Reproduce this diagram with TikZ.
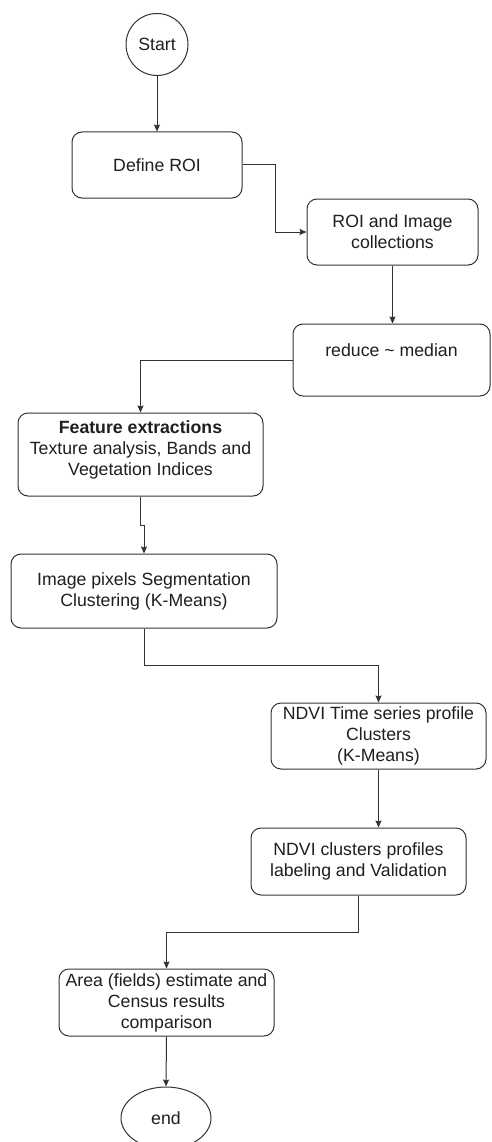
\documentclass[tikz,border=0pt]{standalone}
\usepackage{fontspec}
\setmainfont{Liberation Sans}
\usetikzlibrary{arrows.meta,shapes.geometric}
\begin{document}
\begin{tikzpicture}[x=1pt,y=-1pt,
  txt/.style={font=\fontsize{17.7}{21}\selectfont, text=black!88, align=center, inner sep=0pt},
  box/.style={txt, draw=black!80, line width=1pt, rounded corners=10pt},
  conn/.style={draw=black!80, line width=1pt, -{Stealth[length=7pt,width=6pt,inset=1pt]}}
]
\fill[white] (0,0) rectangle (491,1142);
\useasboundingbox (0,0) rectangle (491,1142);
\clip (0,0) rectangle (491,1142);

\node[txt, draw=black!80, line width=1pt, circle, minimum size=62pt] (start) at (157,44.5) {Start};
\node[box, minimum width=170pt, minimum height=66pt] (roi) at (157,165) {Define ROI};
\node[box, minimum width=171pt, minimum height=66pt] (coll) at (392.5,232) {ROI and Image\\collections};
\node[box, minimum width=197pt, minimum height=72pt] (red) at (391.5,360) {};
\node[txt] (redtxt) at (391.5,350) {reduce \textasciitilde{} median};
\node[box, minimum width=245pt, minimum height=83pt] (feat) at (140.5,454.5) {};
\node[txt] (feattxt) at (140.5,449.5) {\textbf{Feature extractions}\\Texture analysis, Bands and\\Vegetation Indices};
\node[box, minimum width=266pt, minimum height=74pt] (seg) at (144,591) {Image pixels Segmentation\\Clustering (K-Means)};
\node[box, minimum width=215pt, minimum height=66pt] (ts) at (378.5,736) {NDVI Time series profile\\Clusters\\(K-Means)};
\node[box, minimum width=215pt, minimum height=67pt] (lab) at (358.5,861.5) {NDVI clusters profiles\\labeling and Validation};
\node[box, minimum width=215pt, minimum height=67pt] (area) at (166.5,1002.5) {Area (fields) estimate and\\Census results\\comparison};
\node[txt, draw=black!80, line width=1pt, ellipse, minimum width=90pt, minimum height=62pt] (end) at (166,1118) {end};

\draw[conn] (start.south) -- (roi.north);
\draw[conn] (roi.east) -- (275,165) |- (coll.west);
\draw[conn] (coll.south) -- (coll.south |- red.north);
\draw[conn] (red.west) -| (feat.north);
\draw[conn] (feat.south) -- ++(0,29) -| (seg.north);
\draw[conn] (seg.south) -- ++(0,37) -| (ts.north);
\draw[conn] (ts.south) -- (ts.south |- lab.north);
\draw[conn] (lab.south) -- ++(0,37) -| (area.north);
\draw[conn] (area.south) -- (end.north);
\end{tikzpicture}
\end{document}
